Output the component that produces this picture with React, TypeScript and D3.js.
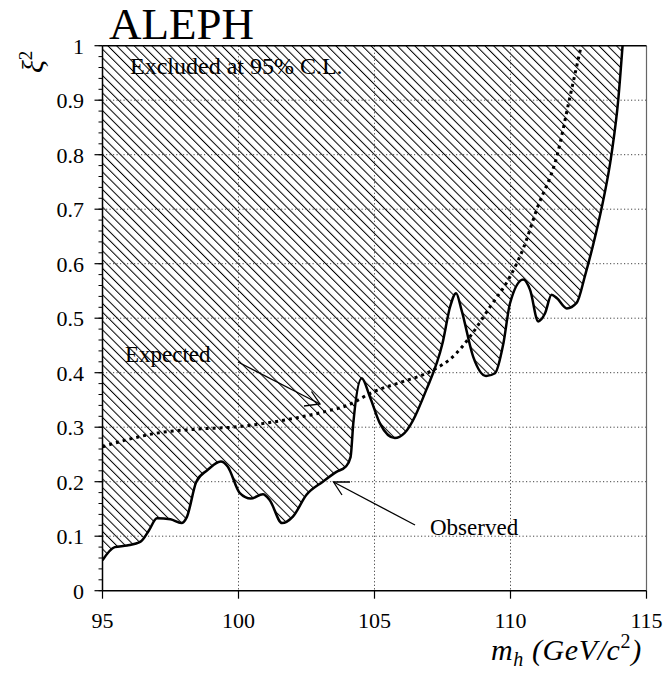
import React from "react";
import * as d3 from "d3";

const obsMass = [95.0, 95.45, 95.9, 96.4, 96.7, 97.0, 97.5, 97.9, 98.1, 98.45, 98.85, 99.35, 99.6, 100.05, 100.45, 100.9, 101.15, 101.6, 102.0, 102.5, 103.1, 103.6, 103.95, 104.12, 104.22, 104.53, 104.83, 105.2, 105.75, 106.1, 106.9, 107.5, 107.78, 108.0, 108.2, 108.63, 109.1, 109.43, 109.74, 109.98, 110.47, 110.72, 111.02, 111.27, 111.51, 111.7, 112.07, 112.43, 112.75, 113.04, 113.35, 113.72, 113.96, 114.12];
const obsXi2 = [0.056, 0.080, 0.083, 0.090, 0.110, 0.133, 0.131, 0.124, 0.135, 0.200, 0.221, 0.237, 0.228, 0.179, 0.169, 0.177, 0.166, 0.124, 0.136, 0.176, 0.200, 0.218, 0.228, 0.245, 0.307, 0.390, 0.356, 0.307, 0.280, 0.289, 0.368, 0.454, 0.521, 0.546, 0.515, 0.429, 0.394, 0.399, 0.454, 0.527, 0.571, 0.552, 0.494, 0.509, 0.543, 0.537, 0.518, 0.528, 0.580, 0.635, 0.702, 0.803, 0.900, 1.0];

const expMass = [95.0, 95.9, 97.1, 98.35, 100.0, 102.0, 103.3, 104.0, 104.96, 106.0, 107.04, 108.0, 108.51, 109.25, 109.98, 110.47, 110.96, 111.72, 112.16, 112.6];
const expXi2 = [0.264, 0.277, 0.290, 0.296, 0.301, 0.316, 0.330, 0.340, 0.365, 0.383, 0.402, 0.435, 0.466, 0.521, 0.576, 0.628, 0.699, 0.800, 0.900, 1.0];

const xTicks = [95, 100, 105, 110, 115];
const yTicks = [0, 0.1, 0.2, 0.3, 0.4, 0.5, 0.6, 0.7, 0.8, 0.9, 1];
const yMinor = d3.range(0, 1.0001, 0.02);

const W = 665;
const H = 673;
const L = 102.5, R = 646.5, T = 45.7, B = 590.7;
const serif = "'Liberation Serif', 'DejaVu Serif', serif";

export default function App() {
  const x = d3.scaleLinear().domain([95, 115]).range([L, R]);
  const y = d3.scaleLinear().domain([0, 1]).range([B, T]);

  const obs = obsMass.map((m, i) => [m, obsXi2[i]] as [number, number]);
  const exp = expMass.map((m, i) => [m, expXi2[i]] as [number, number]);

  const line = d3.line<[number, number]>().x(d => x(d[0])).y(d => y(d[1])).curve(d3.curveMonotoneX);
  const area = d3.area<[number, number]>().x(d => x(d[0])).y0(y(1)).y1(d => y(d[1])).curve(d3.curveMonotoneX);

  return (
    <svg width={W} height={H} style={{ position: "absolute", left: 0, top: 0, background: "#fff" }} fontFamily={serif}>
      <defs>
        <pattern id="hatch" patternUnits="userSpaceOnUse" width={6.2} height={6.2} patternTransform="rotate(-45)">
          <line x1={0.5} y1={-1} x2={0.5} y2={7.2} stroke="#000" strokeWidth={1} />
        </pattern>
        <clipPath id="plot">
          <rect x={L} y={T} width={R - L} height={B - T} />
        </clipPath>
      </defs>

      <g clipPath="url(#plot)">
        <path d={area(obs) || ""} fill="url(#hatch)" />
      </g>

      {/* grid */}
      {yTicks.filter(t => t > 0 && t < 1).map(t => (
        <line key={"gy" + t} x1={L} x2={R} y1={y(t)} y2={y(t)} stroke="#444" strokeWidth={1} strokeDasharray="1.2,2.3" />
      ))}
      {xTicks.filter(t => t > 95 && t < 115).map(t => (
        <line key={"gx" + t} x1={x(t)} x2={x(t)} y1={T} y2={B} stroke="#444" strokeWidth={1} strokeDasharray="1.2,2.3" />
      ))}

      {/* frame */}
      <line x1={R} x2={R} y1={T} y2={B} stroke="#666" strokeWidth={1.2} />
      <line x1={L} x2={R} y1={T} y2={T} stroke="#000" strokeWidth={1.5} />
      <line x1={L} x2={L} y1={T} y2={B} stroke="#000" strokeWidth={1.5} />
      <line x1={L} x2={R} y1={B} y2={B} stroke="#000" strokeWidth={1.5} />

      {/* y ticks */}
      {yMinor.map(t => (
        <line key={"ym" + t} x1={L - 4} x2={L} y1={y(t)} y2={y(t)} stroke="#000" strokeWidth={1} />
      ))}
      {yTicks.map(t => (
        <g key={"yt" + t}>
          <line x1={L - 8} x2={L} y1={y(t)} y2={y(t)} stroke="#000" strokeWidth={1.2} />
          <text x={84} y={y(t) + 8} fontSize={22} textAnchor="end">{String(t)}</text>
        </g>
      ))}

      {/* x ticks */}
      {xTicks.map(t => (
        <g key={"xt" + t}>
          <line x1={x(t)} x2={x(t)} y1={B} y2={B + 8} stroke="#000" strokeWidth={1.2} />
          <text x={x(t)} y={628} fontSize={22} textAnchor="middle">{String(t)}</text>
        </g>
      ))}

      {/* curves */}
      <g clipPath="url(#plot)">
        <path d={line(exp) || ""} fill="none" stroke="#000" strokeWidth={3} strokeDasharray="3,4" />
        <path d={line(obs) || ""} fill="none" stroke="#000" strokeWidth={2.5} />
      </g>

      {/* annotations */}
      <text x={130} y={74} fontSize={24}>Excluded at 95% C.L.</text>
      <text x={125} y={362} fontSize={23}>Expected</text>
      <text x={430} y={535} fontSize={23}>Observed</text>

      <g stroke="#000" strokeWidth={1.3} fill="none">
        <line x1={238} y1={362} x2={320} y2={404} />
        <polyline points="311.5,391.5 320,404 304,406" />
        <line x1={415} y1={525} x2={333.5} y2={482} />
        <polyline points="350,482 333.5,482 342,495" />
      </g>

      {/* titles */}
      <text x={109} y={39} fontSize={45}>ALEPH</text>
      <text transform="translate(43,73) rotate(-90)" fontSize={30} fontStyle="italic">
        ξ<tspan dy={-11} fontSize={19} fontStyle="normal">2</tspan>
      </text>
      <text x={491} y={660} fontSize={30} fontStyle="italic" letterSpacing={0.6}>
        m<tspan dy={6} fontSize={20}>h</tspan>
        <tspan dy={-6}> (GeV/c</tspan>
        <tspan dy={-12} fontSize={20} fontStyle="normal">2</tspan>
        <tspan dy={12}>)</tspan>
      </text>
    </svg>
  );
}
